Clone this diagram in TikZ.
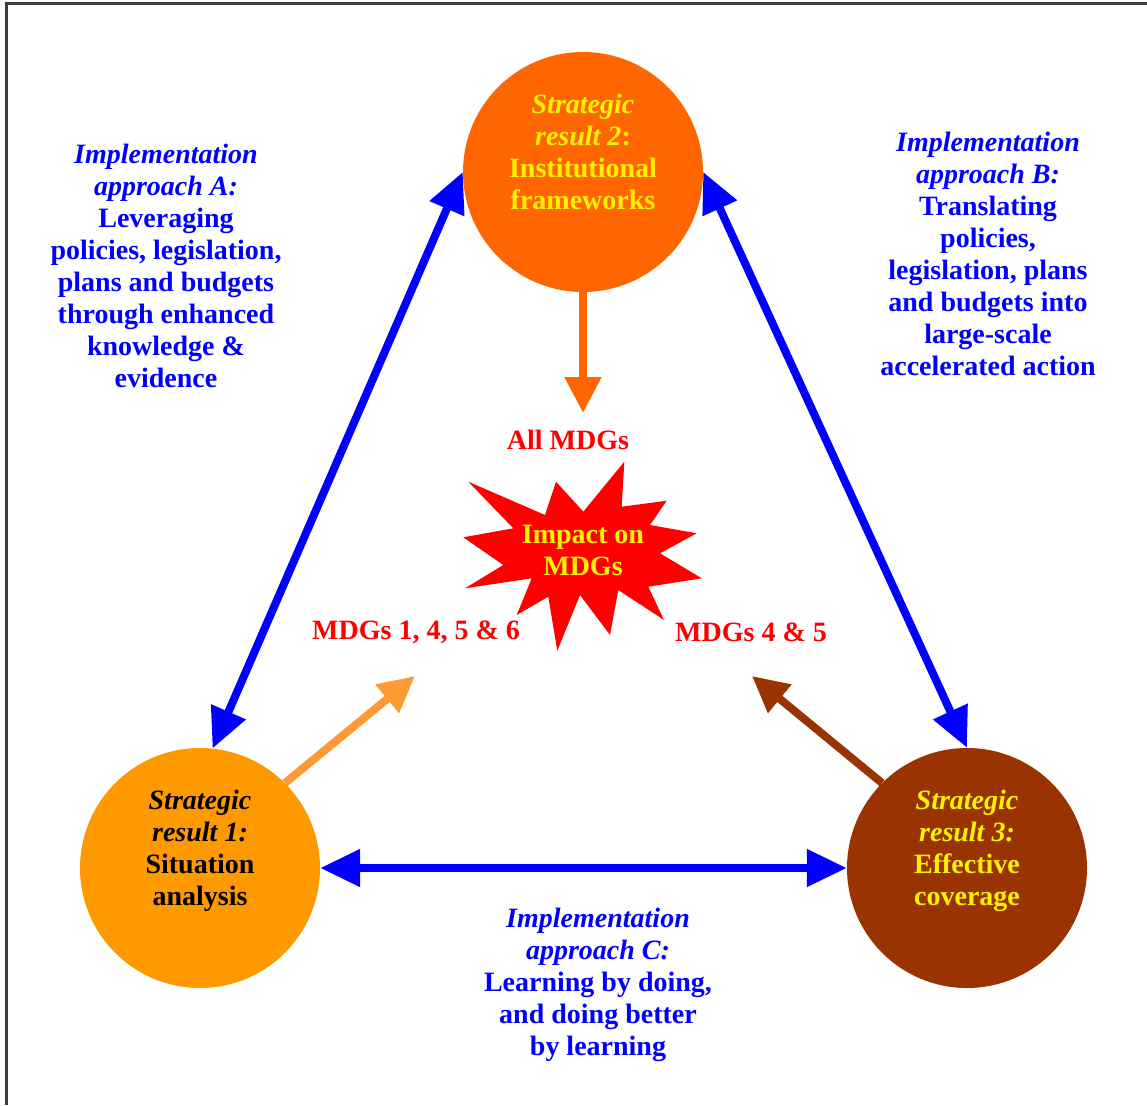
\documentclass[tikz,border=0pt]{standalone}
\usepackage{fontspec}
\setmainfont{Liberation Serif}
\usetikzlibrary{arrows.meta}
\definecolor{resultone}{HTML}{FF9900}
\definecolor{resulttwo}{HTML}{FF6600}
\definecolor{resultthree}{HTML}{993300}
\definecolor{lightorange}{HTML}{FF9933}
\definecolor{framegray}{HTML}{3C3C3C}

\begin{document}
\begin{tikzpicture}[
    x=1pt, y=-1pt,
    result/.style={circle, minimum size=240pt, inner sep=0pt},
    txt/.style={align=center, inner sep=0pt, font=\fontsize{28}{32}\selectfont\bfseries},
    arr/.style={-{Triangle[length=36pt, width=35pt]}, line width=8pt},
    twoway/.style={{Triangle[length=40pt, width=36pt]}-{Triangle[length=40pt, width=36pt]}, line width=8pt, blue},
]
\useasboundingbox (0,0) rectangle (1147,1105);
\draw[framegray, line width=2.6pt] (6.7,1105) -- (6.7,3.8) -- (1147,3.8);

% Strategic results
\node[result, fill=resulttwo] (sr2) at (583,172) {};
\node[txt, yellow] (sr2text) at ([yshift=20pt]sr2) {\textit{Strategic}\\\textit{result 2}:\\Institutional\\frameworks};

\node[result, fill=resultone] (sr1) at (200,868) {};
\node[txt, black] (sr1text) at ([yshift=17pt]sr1) {\textit{Strategic}\\\textit{result 1:}\\Situation\\analysis};

\node[result, fill=resultthree] (sr3) at (967,868) {};
\node[txt, yellow] (sr3text) at ([yshift=17pt]sr3) {\textit{Strategic}\\\textit{result 3:}\\Effective\\coverage};

% Implementation approaches
\node[txt, blue] (appA) at (166,266) {\textit{Implementation}\\\textit{approach A:}\\Leveraging\\policies, legislation,\\plans and budgets\\through enhanced\\knowledge \&\\evidence};
\node[txt, blue] (appB) at (988,254) {\textit{Implementation}\\\textit{approach B:}\\Translating\\policies,\\legislation, plans\\and budgets into\\large-scale\\accelerated action};
\node[txt, blue] (appC) at (598,985) {\textit{Implementation}\\\textit{approach C:}\\Learning by doing,\\and doing better\\by learning};

% Impact
\fill[red] (468.3,481.7) -- (545,515) -- (556,481.7) -- (583.3,511.7) -- (624.3,461.7)
  -- (621.7,506.7) -- (666.7,500.7) -- (650,525) -- (696.7,533.3) -- (660,553.3)
  -- (701.7,578.3) -- (648.3,586.7) -- (664,620) -- (618.3,590) -- (610,635)
  -- (580,595) -- (557.3,650.7) -- (548.3,596.7) -- (516.7,615) -- (531.7,578.3)
  -- (465,588.3) -- (503.3,565) -- (463.3,537.3) -- (513.3,528.3) -- cycle;
\node[txt, yellow] (impact) at (583,550) {Impact on\\MDGs};

\node[txt, red] (allmdg) at (568,440) {All MDGs};
\node[txt, red] (leftmdg) at (416,632) {MDGs 1, 4, 5 \& 6};
\node[txt, red] (rightmdg) at (751,632) {MDGs 4 \& 5};

% Arrows
\draw[twoway] (sr2.west) -- (sr1.84);
\draw[twoway] (sr2.east) -- (sr3.north);
\draw[twoway] (sr1.east) -- (sr3.west);

\coordinate (allend) at (583,413);
\coordinate (leftend) at (415,676);
\coordinate (rightend) at (752,676);
\draw[arr, resulttwo] (sr2.south) -- (allend);
\draw[arr, lightorange] (sr1.45) -- (leftend);
\draw[arr, resultthree] (sr3.135) -- (rightend);
\end{tikzpicture}
\end{document}
